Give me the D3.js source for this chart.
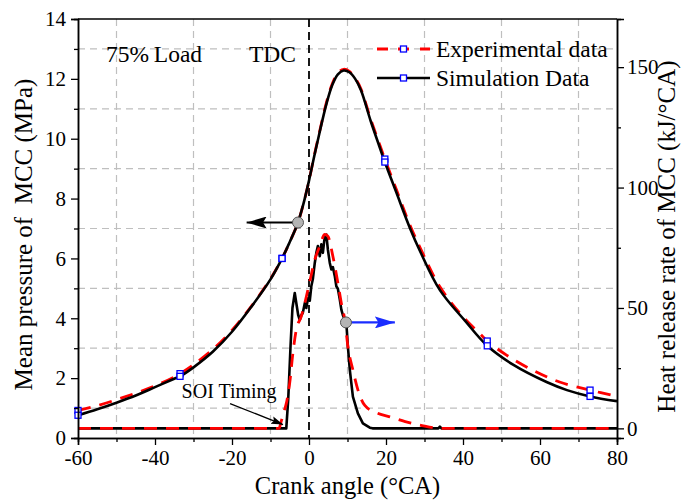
<!DOCTYPE html>
<html><head><meta charset="utf-8">
<script src="https://cdn.jsdelivr.net/npm/d3@7"></script>
<style>
html,body{margin:0;padding:0;background:#fff;}
svg{display:block;font-family:"Liberation Serif","Times New Roman",serif;}
</style></head>
<body>
<svg id="chart" width="681" height="500"></svg>
<script>
// ---- data ----
const xTicks = [-60, -40, -20, 0, 20, 40, 60, 80];
const xMinorTicks = [-50, -30, -10, 10, 30, 50, 70];
const yLeftTicks = [0, 2, 4, 6, 8, 10, 12, 14];
const yLeftMinorTicks = [1, 3, 5, 7, 9, 11, 13];
const yRightTicks = [0, 50, 100, 150];
const yRightMinorTicks = [25, 75, 125];
const markerX = [-60, -33.5, -7, 19.7, 46.3, 73];

// pressure (MPa) : [crank angle, value]
const simPressure = [[-60,0.76],[-55,0.96],[-50,1.18],[-45,1.42],[-40,1.70],[-35,1.98],[-33.5,2.06],[-30,2.36],[-25,2.88],[-20,3.55],[-15,4.38],[-10,5.3],[-7,6.0],[-5,6.55],[-3,7.15],[-1.5,7.8],[0,8.6],[1.5,9.5],[3,10.35],[4.5,11.15],[6,11.78],[7.5,12.15],[9,12.28],[10.5,12.22],[12,12.0],[13.5,11.62],[16,10.6],[18,9.85],[19.7,9.22],[22.7,8.2],[26.2,7.02],[29,6.2],[34,4.94],[40.5,3.92],[46.3,3.08],[53,2.45],[61.7,1.87],[67,1.6],[73,1.39],[80,1.23]];
const expPressure = [[-60,0.92],[-55,1.08],[-50,1.28],[-45,1.5],[-40,1.74],[-35,2.04],[-33.5,2.15],[-30,2.45],[-25,2.96],[-20,3.6],[-15,4.4],[-10,5.32],[-7,6.0],[-5,6.55],[-3,7.15],[-1.5,7.8],[0,8.6],[1.5,9.52],[3,10.38],[4.5,11.2],[6,11.82],[7.5,12.2],[9,12.32],[10.5,12.25],[12,12.02],[13.5,11.66],[16,10.66],[18,9.93],[19.7,9.32],[22.7,8.3],[26.2,7.12],[29,6.32],[34,5.05],[40,4.05],[44.8,3.43],[46.3,3.24],[51.3,2.77],[58.2,2.26],[65.1,1.87],[73,1.6],[80,1.39]];

// heat release rate (kJ/°CA)
const simHRR = [[-60,0],[-5.9,0],[-5.4,12],[-4.8,34],[-4.3,50],[-3.7,56.2],[-3.2,51],[-2.8,47],[-2.4,45],[-2.0,47],[-1.6,48],[-1.1,52],[-0.7,50],[-0.26,54],[0.2,53],[0.6,59],[1.0,62],[1.5,68.7],[1.9,72.9],[2.3,75.7],[2.8,71.5],[3.2,76.4],[3.6,72.9],[4.1,79.8],[4.5,80.5],[4.9,74.3],[5.4,68.7],[5.8,66],[6.2,67],[6.7,63.2],[7.1,59],[7.5,58],[8.0,53.5],[8.4,49.3],[8.8,47],[9.3,45.1],[9.7,43.7],[10.1,34],[10.6,24.3],[11.4,13.2],[12.7,6.2],[14,2.1],[15.8,0.3],[16.5,0],[33.6,0],[34,0.7],[34.4,0],[80,0]];
const expHRR = [[-60,0],[-7.8,0],[-7.2,3],[-6.5,7],[-5.8,11],[-5,19],[-4.2,31],[-3.3,41],[-2,46.5],[-1.1,52],[0.2,61],[1.5,70],[2.8,75.7],[4.1,80.5],[4.9,79.8],[6.2,71.5],[7.5,60.4],[8.4,52],[9.3,45],[10.1,34],[11.4,24.3],[12.7,16],[14.5,9.5],[17.5,6.5],[21,4.8],[25,2.8],[28.8,1.4],[34,0],[80,0]];

// annotation anchors (data coordinates)
const leftMarker = {x: -2.86, y: 7.2, arrowTo: -16.2};
const rightMarker = {x: 9.6, y: 44, arrowTo: 22.3};
const soiLabel = {x: -33.1, y: 1.33, from: [-20.5, 1.15], to: [-6.75, 0.45]};

// ---- layout ----
const svg = d3.select("#chart");
const L = 78, R = 617, T = 19, B = 438;
const x = d3.scaleLinear().domain([-60, 80]).range([L, R]);
const yL = d3.scaleLinear().domain([0, 14]).range([B, T]);
const yR = d3.scaleLinear().domain([-4, 170]).range([B, T]);

const defs = svg.append("defs");
defs.append("clipPath").attr("id","clip").append("rect")
  .attr("x", L).attr("y", T).attr("width", R - L).attr("height", B - T);
function arrowMarker(id, color, w, h) {
  defs.append("marker").attr("id", id).attr("viewBox", `0 0 ${w} ${h}`)
    .attr("refX", w).attr("refY", h/2).attr("markerWidth", w).attr("markerHeight", h)
    .attr("markerUnits","userSpaceOnUse").attr("orient","auto")
    .append("path").attr("d", `M0,0 L${w},${h/2} L0,${h} L${w*0.18},${h/2} Z`).attr("fill", color);
}
arrowMarker("arrBlack", "#000", 20, 12);
arrowMarker("arrBlue", "#1a2cff", 20, 12);
arrowMarker("arrSmall", "#000", 12, 8);

// grid
const grid = svg.append("g").attr("stroke", "#bfbfbf").attr("stroke-width", 1.2).attr("stroke-dasharray", "7,5");
grid.selectAll("line.h").data(yLeftMinorTicks).join("line")
  .attr("x1", L).attr("x2", R).attr("y1", d => yL(d)).attr("y2", d => yL(d));
grid.selectAll("line.v").data(xMinorTicks).join("line")
  .attr("y1", T).attr("y2", B).attr("x1", d => x(d)).attr("x2", d => x(d));

// TDC line
svg.append("line").attr("x1", x(0)).attr("x2", x(0)).attr("y1", T).attr("y2", B)
  .attr("stroke", "#000").attr("stroke-width", 1.8).attr("stroke-dasharray", "8,5");

const plot = svg.append("g").attr("clip-path", "url(#clip)");
const lineP = d3.line().x(d => x(d[0])).y(d => yL(d[1])).curve(d3.curveCatmullRom.alpha(0.5));
const lineHsim = d3.line().x(d => x(d[0])).y(d => yR(d[1]));
const lineHexp = d3.line().x(d => x(d[0])).y(d => yR(d[1])).curve(d3.curveMonotoneX);

plot.append("path").attr("d", lineHsim(simHRR)).attr("fill","none").attr("stroke","#000").attr("stroke-width",2.6).attr("stroke-linejoin","round");
plot.append("path").attr("d", lineHexp(expHRR)).attr("fill","none").attr("stroke","#ff0000").attr("stroke-width",2.8).attr("stroke-dasharray","13,9");
plot.append("path").attr("d", lineP(expPressure)).attr("fill","none").attr("stroke","#ff0000").attr("stroke-width",2.8).attr("stroke-dasharray","13,9");
plot.append("path").attr("d", lineP(simPressure)).attr("fill","none").attr("stroke","#000").attr("stroke-width",2.6);

// markers on pressure curves
const mk = 6;
[expPressure, simPressure].forEach(series => {
  svg.append("g").selectAll("rect").data(series.filter(d => markerX.includes(d[0]))).join("rect")
    .attr("x", d => x(d[0]) - mk/2).attr("y", d => yL(d[1]) - mk/2)
    .attr("width", mk).attr("height", mk)
    .attr("fill", "#fff").attr("stroke", "#0000ff").attr("stroke-width", 1.3);
});

// annotations
svg.append("line").attr("x1", x(leftMarker.x)).attr("y1", yL(leftMarker.y))
  .attr("x2", x(leftMarker.arrowTo)).attr("y2", yL(leftMarker.y))
  .attr("stroke","#000").attr("stroke-width",2.2).attr("marker-end","url(#arrBlack)");
svg.append("circle").attr("cx", x(leftMarker.x)).attr("cy", yL(leftMarker.y)).attr("r", 5.5)
  .attr("fill","#b4b4b4").attr("stroke","#555").attr("stroke-width",1);
svg.append("line").attr("x1", x(rightMarker.x)).attr("y1", yR(rightMarker.y))
  .attr("x2", x(rightMarker.arrowTo)).attr("y2", yR(rightMarker.y))
  .attr("stroke","#1a2cff").attr("stroke-width",2.2).attr("marker-end","url(#arrBlue)");
svg.append("circle").attr("cx", x(rightMarker.x)).attr("cy", yR(rightMarker.y)).attr("r", 5.5)
  .attr("fill","#b4b4b4").attr("stroke","#555").attr("stroke-width",1);
svg.append("line").attr("x1", x(soiLabel.from[0])).attr("y1", yL(soiLabel.from[1]))
  .attr("x2", x(soiLabel.to[0])).attr("y2", yL(soiLabel.to[1]))
  .attr("stroke","#000").attr("stroke-width",1.3).attr("marker-end","url(#arrSmall)");
svg.append("text").attr("x", x(soiLabel.x)).attr("y", yL(soiLabel.y))
  .attr("font-size", 20).text("SOI Timing");

// texts
svg.append("text").attr("x", 106).attr("y", 62).attr("font-size", 23.5).text("75%\u2009Load");
svg.append("text").attr("x", 249).attr("y", 62).attr("font-size", 23.5).text("TDC");

// legend
const legend = svg.append("g");
const legItems = [
  {label: "Experimental data", color: "#ff0000", dash: "13,9", y: 49},
  {label: "Simulation Data", color: "#000", dash: null, y: 78}
];
legItems.forEach(it => {
  legend.append("line").attr("x1", 377).attr("x2", 430).attr("y1", it.y).attr("y2", it.y)
    .attr("stroke", it.color).attr("stroke-width", it.dash ? 2.8 : 2.6)
    .attr("stroke-dasharray", it.dash ? "11,10,11" : null);
  legend.append("rect").attr("x", 403.5 - mk/2).attr("y", it.y - mk/2).attr("width", mk).attr("height", mk)
    .attr("fill","#fff").attr("stroke","#0000ff").attr("stroke-width",1.3);
  legend.append("text").attr("x", 436).attr("y", it.y + 8).attr("font-size", 23.5).text(it.label);
});

// axes
function styleAxis(g) {
  g.select(".domain").attr("stroke", "#000").attr("stroke-width", 1.5);
  g.selectAll(".tick line").attr("stroke", "#000").attr("stroke-width", 1.3);
  g.selectAll("text").attr("font-family", "Liberation Serif, Times New Roman, serif").attr("font-size", 21).attr("fill", "#000");
}
svg.append("line").attr("x1", L).attr("x2", R).attr("y1", T).attr("y2", T).attr("stroke","#000").attr("stroke-width",1.5);

const gx = svg.append("g").attr("transform", `translate(0,${B})`)
  .call(d3.axisBottom(x).tickValues(xTicks).tickSize(7).tickPadding(5).tickFormat(d3.format("d")));
styleAxis(gx);
gx.selectAll("text").text(d => d < 0 ? "-" + Math.abs(d) : d);
const gxm = svg.append("g").attr("transform", `translate(0,${B})`)
  .call(d3.axisBottom(x).tickValues(xMinorTicks).tickSize(4).tickFormat(""));
styleAxis(gxm);

const gyl = svg.append("g").attr("transform", `translate(${L},0)`)
  .call(d3.axisLeft(yL).tickValues(yLeftTicks).tickSize(7).tickPadding(5));
styleAxis(gyl);
const gylm = svg.append("g").attr("transform", `translate(${L},0)`)
  .call(d3.axisLeft(yL).tickValues(yLeftMinorTicks).tickSize(4).tickFormat(""));
styleAxis(gylm);

const gyr = svg.append("g").attr("transform", `translate(${R},0)`)
  .call(d3.axisRight(yR).tickValues(yRightTicks).tickSize(7).tickPadding(3));
styleAxis(gyr);
const gyrm = svg.append("g").attr("transform", `translate(${R},0)`)
  .call(d3.axisRight(yR).tickValues(yRightMinorTicks).tickSize(4).tickFormat(""));
styleAxis(gyrm);

// axis titles
svg.append("text").attr("x", (L + R) / 2).attr("y", 494).attr("text-anchor", "middle")
  .attr("font-size", 24.5).text("Crank angle (\u00B0CA)");
svg.append("text").attr("transform", `translate(32,${(T + B) / 2 + 6}) rotate(-90)`).attr("text-anchor", "middle")
  .attr("font-size", 25).style("white-space", "pre").text("Mean pressure of  MCC (MPa)");
svg.append("text").attr("transform", `translate(675,${(T + B) / 2 + 8}) rotate(-90)`).attr("text-anchor", "middle")
  .attr("font-size", 25).text("Heat release rate of MCC (kJ/\u00B0CA)");
</script>
</body></html>
